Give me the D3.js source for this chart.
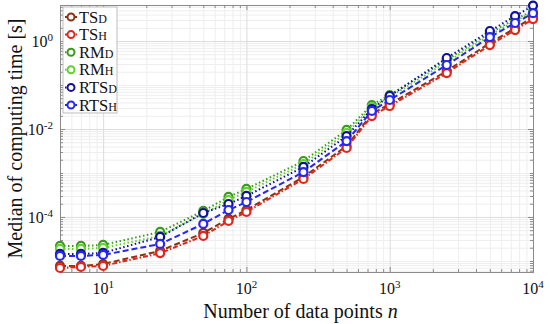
<!DOCTYPE html>
<html>
<head>
<meta charset="utf-8">
<script src="https://cdn.jsdelivr.net/npm/d3@7"></script>
<style>
  body { margin: 0; background: #fff; }
  svg { display: block; font-family: "Liberation Serif", "DejaVu Serif", serif; }
</style>
</head>
<body>
<svg id="chart"></svg>
<script>
// data points n
const nPoints = [5, 7, 10, 25, 50, 75, 100, 250, 500, 750, 1000, 2500, 5000, 7500, 10000];

// median computing time [s] per method
const tsD   = [7.7e-6, 7.7e-6, 8.5e-6, 1.69e-5, 4.33e-5, 9.0e-5, 1.44e-4, 8.1e-4, 4.1e-3, 0.0219, 0.0370, 0.208, 0.90, 1.97, 3.5];
const tsH   = [6.9e-6, 7.3e-6, 7.7e-6, 1.5e-5, 3.7e-5, 8.1e-5, 1.30e-4, 7.3e-4, 3.7e-3, 0.0197, 0.0333, 0.187, 0.81, 1.78, 3.16];
const rmD   = [2.19e-5, 2.19e-5, 2.31e-5, 4.56e-5, 1.37e-4, 2.85e-4, 4.33e-4, 1.87e-3, 9.5e-3, 0.0351, 0.0593, 0.370, 1.52, 3.16, 4.81];
const rmH   = [1.87e-5, 1.87e-5, 1.97e-5, 3.70e-5, 1.17e-4, 2.43e-4, 3.70e-4, 1.60e-3, 8.1e-3, 0.0316, 0.0534, 0.333, 1.37, 2.85, 4.56];
const rtsD  = [1.44e-5, 1.44e-5, 1.52e-5, 3.51e-5, 1.23e-4, 1.97e-4, 3.0e-4, 1.37e-3, 6.9e-3, 0.0285, 0.0562, 0.411, 1.69, 3.70, 6.4];
const rtsH  = [1.30e-5, 1.30e-5, 1.37e-5, 2.43e-5, 6.93e-5, 1.44e-4, 2.19e-4, 1.05e-3, 5.3e-3, 0.0257, 0.0456, 0.285, 1.23, 2.57, 4.3];

const seriesNames = [['TS', 'D'], ['TS', 'H'], ['RM', 'D'], ['RM', 'H'], ['RTS', 'D'], ['RTS', 'H']];
const seriesValues = [tsD, tsH, rmD, rmH, rtsD, rtsH];
const seriesColors = ['#8b3312', '#e2261b', '#3b9a1c', '#62d12e', '#10109a', '#2727f5'];
const seriesDash = ['6 3', '5 2 1.5 2', '1.5 2.5', '1.5 2.5', '1.5 2.5', '6 3'];

const xTickLabels = ['1', '2', '3', '4'];      // exponents of 10
const yTickLabels = ['-4', '-2', '0'];

const width = 550, height = 324;
const margin = { top: 5, right: 17, bottom: 52, left: 60 };
const innerW = width - margin.left - margin.right;
const innerH = height - margin.top - margin.bottom;

const svg = d3.select('#chart').attr('width', width).attr('height', height);

const x = d3.scaleLog([5, 10000], [margin.left, width - margin.right]);
const y = d3.scaleLog([5.6e-6, 6.6], [height - margin.bottom, margin.top]);

// minor / major tick values for a log domain
function logTicks(domain) {
  const lo = Math.floor(Math.log10(domain[0])), hi = Math.ceil(Math.log10(domain[1]));
  const out = [];
  for (let e = lo; e <= hi; e++) {
    for (let m = 1; m < 10; m++) {
      const v = m * Math.pow(10, e);
      if (v >= domain[0] * 0.999 && v <= domain[1] * 1.001) out.push(v);
    }
  }
  return out;
}
const xMajor = xTickLabels.map((e) => Math.pow(10, +e));
const yMajor = yTickLabels.map((e) => Math.pow(10, +e));
const isMajor = (list) => (v) => list.some((m) => Math.abs(v / m - 1) < 1e-6);
const xMinor = logTicks(x.domain()).filter((v) => !isMajor(xMajor)(v));
const yMinor = logTicks(y.domain()).filter((v) => !isMajor(yMajor)(v));

/**
 * grid
 */
const grid = svg.append('g');
grid.append('g')
  .attr('transform', `translate(0,${height - margin.bottom})`)
  .call(d3.axisBottom(x).tickValues(xMinor).tickSize(-innerH).tickFormat(''))
  .call((g) => g.select('.domain').remove())
  .call((g) => g.selectAll('line').attr('stroke', '#eeeeee'));
grid.append('g')
  .attr('transform', `translate(${margin.left},0)`)
  .call(d3.axisLeft(y).tickValues(yMinor).tickSize(-innerW).tickFormat(''))
  .call((g) => g.select('.domain').remove())
  .call((g) => g.selectAll('line').attr('stroke', '#eeeeee'));
grid.append('g')
  .attr('transform', `translate(0,${height - margin.bottom})`)
  .call(d3.axisBottom(x).tickValues(xMajor).tickSize(-innerH).tickFormat(''))
  .call((g) => g.select('.domain').remove())
  .call((g) => g.selectAll('line').attr('stroke', '#dcdcdc'));
grid.append('g')
  .attr('transform', `translate(${margin.left},0)`)
  .call(d3.axisLeft(y).tickValues(yMajor).tickSize(-innerW).tickFormat(''))
  .call((g) => g.select('.domain').remove())
  .call((g) => g.selectAll('line').attr('stroke', '#dcdcdc'));

/**
 * axes (box, inward ticks)
 */
const axisColor = '#8a8a8a';
function styleAxis(g) {
  g.select('.domain').attr('stroke', axisColor);
  g.selectAll('.tick line').attr('stroke', axisColor);
}
const bottomY = height - margin.bottom, rightX = width - margin.right;
[[d3.axisBottom, `translate(0,${bottomY})`, x, xMajor, xMinor],
 [d3.axisTop, `translate(0,${margin.top})`, x, xMajor, xMinor],
 [d3.axisLeft, `translate(${margin.left},0)`, y, yMajor, yMinor],
 [d3.axisRight, `translate(${rightX},0)`, y, yMajor, yMinor]].forEach(([fn, tr, sc, maj, min]) => {
  svg.append('g').attr('transform', tr)
    .call(fn(sc).tickValues(min).tickSize(-3).tickSizeOuter(0).tickFormat(''))
    .call(styleAxis);
  svg.append('g').attr('transform', tr)
    .call(fn(sc).tickValues(maj).tickSize(-5).tickSizeOuter(0).tickFormat(''))
    .call(styleAxis);
});

// tick labels 10^e
function powLabel(sel) {
  sel.each(function (e) {
    const t = d3.select(this);
    t.append('tspan').text('10');
    t.append('tspan').attr('dy', '-0.55em').attr('font-size', '11px').text(e);
  });
}
svg.append('g').selectAll('text').data(xTickLabels).join('text')
  .attr('x', (e) => x(Math.pow(10, +e)))
  .attr('y', bottomY + 22)
  .attr('text-anchor', 'middle')
  .attr('font-size', '16px')
  .attr('fill', '#111')
  .call(powLabel);
svg.append('g').selectAll('text').data(yTickLabels).join('text')
  .attr('x', margin.left - 7)
  .attr('y', (e) => y(Math.pow(10, +e)) + 6)
  .attr('text-anchor', 'end')
  .attr('font-size', '16px')
  .attr('fill', '#111')
  .call(powLabel);

// axis titles
svg.append('text')
  .attr('x', (margin.left + rightX) / 2 + 4)
  .attr('y', height - 6)
  .attr('text-anchor', 'middle')
  .attr('font-size', '20px')
  .attr('fill', '#111')
  .call((t) => {
    t.append('tspan').text('Number of data points ');
    t.append('tspan').attr('font-style', 'italic').text('n');
  });
svg.append('text')
  .attr('transform', `translate(22,${(margin.top + bottomY) / 2}) rotate(-90)`)
  .attr('text-anchor', 'middle')
  .attr('font-size', '20px')
  .attr('fill', '#111')
  .text('Median of computing time [s]');

/**
 * series
 */
const line = d3.line().x((d) => x(d[0])).y((d) => y(d[1]));
const plot = svg.append('g');
seriesValues.forEach((vals, i) => {
  const pts = nPoints.map((n, j) => [n, vals[j]]);
  const g = plot.append('g');
  g.append('path')
    .attr('d', line(pts))
    .attr('fill', 'none')
    .attr('stroke', seriesColors[i])
    .attr('stroke-width', 2)
    .attr('stroke-dasharray', seriesDash[i]);
  g.selectAll('circle').data(pts).join('circle')
    .attr('cx', (d) => x(d[0]))
    .attr('cy', (d) => y(d[1]))
    .attr('r', 4)
    .attr('fill', '#fff')
    .attr('stroke', seriesColors[i])
    .attr('stroke-width', 2.2);
});

/**
 * legend
 */
const legend = svg.append('g').attr('transform', 'translate(63,7)');
legend.append('rect')
  .attr('width', 54).attr('height', 106)
  .attr('fill', '#fff').attr('stroke', '#bdbdbd').attr('stroke-width', 1);
seriesNames.forEach((name, i) => {
  const ly = 10 + i * 17.6;
  legend.append('line')
    .attr('x1', 2).attr('x2', 14).attr('y1', ly).attr('y2', ly)
    .attr('stroke', seriesColors[i]).attr('stroke-width', 2)
    .attr('stroke-dasharray', seriesDash[i]);
  legend.append('circle')
    .attr('cx', 8).attr('cy', ly).attr('r', 3.5)
    .attr('fill', '#fff').attr('stroke', seriesColors[i]).attr('stroke-width', 2);
  const t = legend.append('text')
    .attr('x', 16).attr('y', ly + 5.5)
    .attr('font-size', '16.5px').attr('fill', '#111');
  t.append('tspan').text(name[0]);
  t.append('tspan').attr('font-size', '12px').text(name[1]);
});
</script>
</body>
</html>
